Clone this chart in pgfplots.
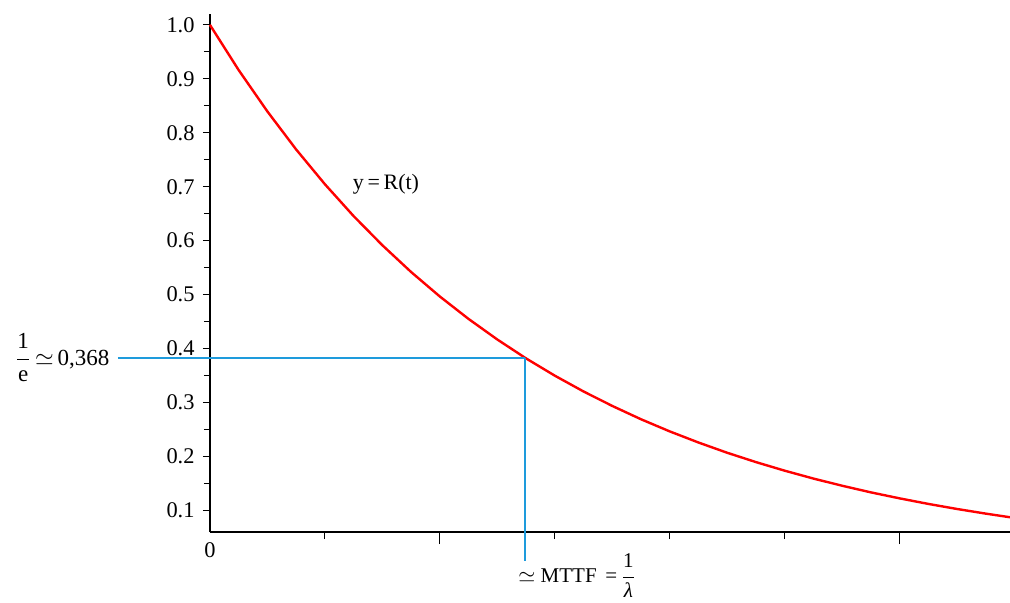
\documentclass[border=0pt]{standalone}
\usepackage{fontspec}
\setmainfont{Liberation Serif}
\usepackage{pgfplots}
\pgfplotsset{compat=1.18}
\definecolor{refblue}{RGB}{30,155,220}
\begin{document}
\begin{tikzpicture}
\begin{axis}[
  scale only axis,
  width=400pt, height=259pt,
  xmin=0, xmax=6.96, ymin=0.06, ymax=1.02,
  axis x line*=bottom, axis y line*=left,
  axis line style={line width=0.7pt},
  clip=false,
  xtick={1,3,4,5}, xticklabels={},
  extra x ticks={2,6}, extra x tick labels={},
  extra x tick style={major tick length=6pt},
  ytick={0.1,0.2,0.3,0.4,0.5,0.6,0.7,0.8,0.9,1.0},
  minor y tick num=1,
  tick align=outside,
  major tick length=3.5pt, minor tick length=3pt,
  tick style={black, line width=0.6pt},
  yticklabel style={/pgf/number format/.cd, fixed, fixed zerofill, precision=1, assume math mode=true},
  tick label style={font=\fontsize{11.2}{13}\selectfont},
  every tick label/.append style={inner sep=1pt},
  yticklabel shift=3pt,
]
\addplot[red, line width=1.2pt] coordinates {
(0,1) (0.25,0.9162) (0.5,0.8395) (0.75,0.7691) (1.0,0.7047) (1.25,0.6456)
(1.5,0.5916) (1.75,0.5420) (2.0,0.4966) (2.25,0.4550) (2.5,0.4169) (2.75,0.3819)
(3.0,0.3499) (3.25,0.3206) (3.5,0.2938) (3.75,0.2691) (4.0,0.2466) (4.25,0.2260)
(4.5,0.2070) (4.75,0.1897) (5.0,0.1738) (5.25,0.1592) (5.5,0.1459) (5.75,0.1336)
(6.0,0.1225) (6.25,0.1122) (6.5,0.1028) (6.75,0.0942) (6.96,0.0875)
};
\addplot[refblue, line width=0.8pt] coordinates {(-0.8,0.383) (2.74,0.383)};
\addplot[refblue, line width=0.8pt] coordinates {(2.74,0.383) (2.74,0.006)};
\node[anchor=north, font=\fontsize{11.2}{13}\selectfont, inner sep=1pt] at (axis cs:0,0.045) {0};
\node[anchor=east, font=\fontsize{11.5}{13}\selectfont, inner sep=0pt] at (axis cs:-0.87,0.383)
  {$\displaystyle\frac{\hbox{1}}{\hbox{e}}$\,$\simeq$\,0,368};
\node[anchor=west, font=\fontsize{11}{12}\selectfont, inner sep=0pt] at (axis cs:1.24,0.704)
  {y\,=\,R(t)};
\node[anchor=west, font=\fontsize{10.5}{12}\selectfont, inner sep=0pt] at (axis cs:2.68,-0.021)
  {$\simeq$ MTTF \,=\,$\displaystyle\frac{\hbox{1}}{\hbox{\itshape λ}}$};
\coordinate (bl) at (axis cs:-1.826,-0.0704);
\coordinate (tr) at (axis cs:6.96,1.046);
\end{axis}
\pgfresetboundingbox
\path (bl) rectangle (tr);
\end{tikzpicture}
\end{document}
